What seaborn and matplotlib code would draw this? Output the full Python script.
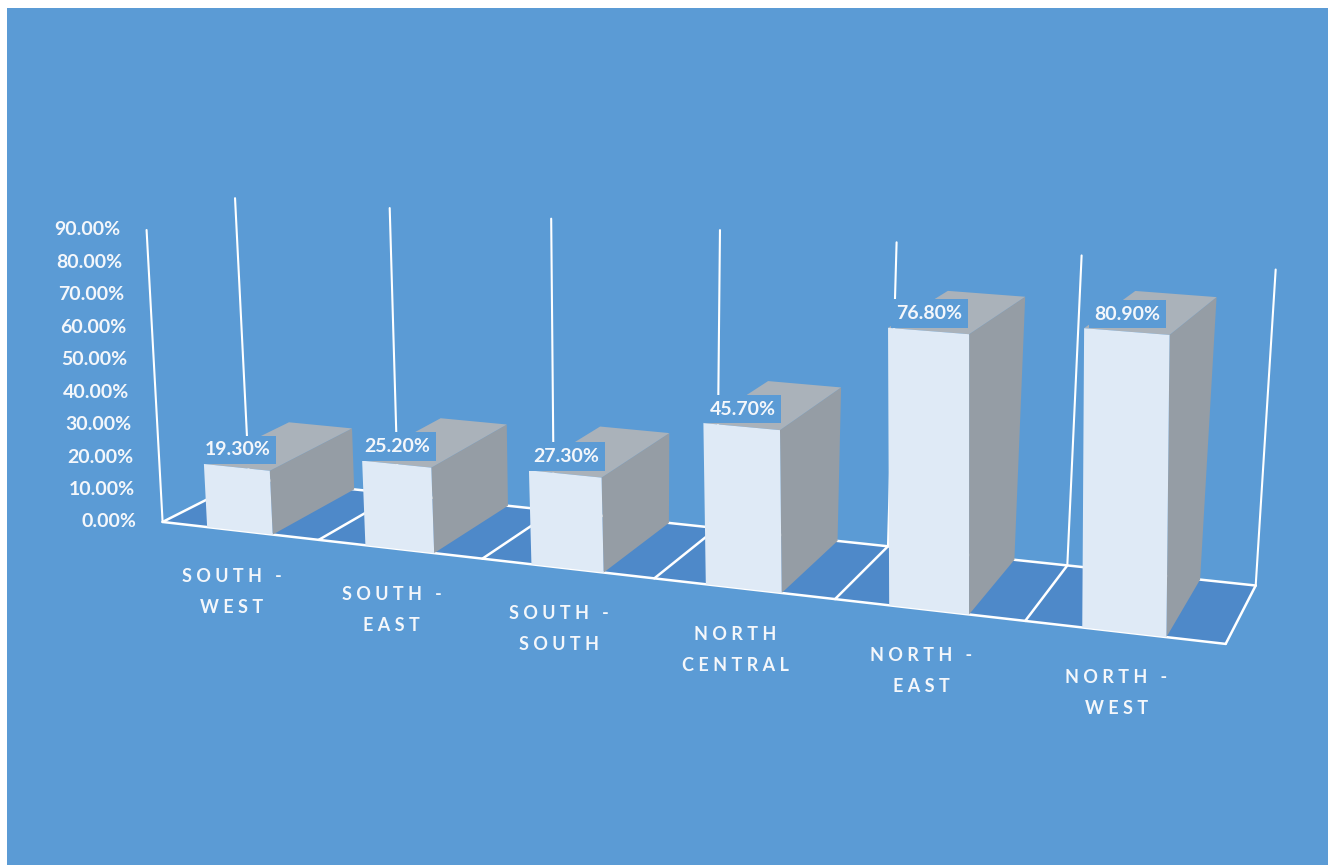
import numpy as np
import pandas as pd
import matplotlib
matplotlib.use("Agg")
import matplotlib.pyplot as plt
import matplotlib.transforms as mtransforms
from matplotlib.patches import Polygon
import seaborn as sns

# datos
regions = ["SOUTH -\nWEST", "SOUTH -\nEAST", "SOUTH -\nSOUTH",
           "NORTH\nCENTRAL", "NORTH -\nEAST", "NORTH -\nWEST"]
shares = [19.3, 25.2, 27.3, 45.7, 76.8, 80.9]
yticks = [0, 10, 20, 30, 40, 50, 60, 70, 80, 90]

BG = "#5b9bd5"
FLOOR = "#4e89c9"
FRONT = "#dfeaf6"
SIDE = "#959da5"
TOP = "#aab2ba"
TXT = "#f4f7fb"

#%% perspectiva (pixeles de la imagen)

# suelo: (slot, profundidad) -> pixel
floor_src = [(0, 0), (1, 0), (2, 0), (3, 0), (4, 0), (5, 0), (6, 0),
             (0, 1), (1, 1), (2, 1), (3, 1), (4, 1), (5, 1), (6, 1)]
floor_dst = [(161, 522), (320, 539), (483, 558), (655, 578), (835, 598), (1025, 622), (1225, 646),
             (251, 480), (398, 494), (550, 510), (716, 528), (889, 546), (1072, 566), (1253, 584)]

A, b = [], []
for (x, z), (u, v) in zip(floor_src, floor_dst):
    A.append([x, z, 1, 0, 0, 0, -u * x, -u * z]); b.append(u)
    A.append([0, 0, 0, x, z, 1, -v * x, -v * z]); b.append(v)
h = np.linalg.lstsq(np.array(A, float), np.array(b, float), rcond=None)[0]
H = np.append(h, 1).reshape(3, 3)

# vector vertical (pixeles por 1%) en las esquinas
V_FL = np.array([-0.178, -3.244])
V_FR = np.array([0.05, -3.76])
V_BL = np.array([-0.156, -3.111])
V_BR = np.array([0.222, -3.511])
NSLOT = len(regions)


def project(X, Y, Z):
    X = np.atleast_1d(np.asarray(X, float))
    Y = np.atleast_1d(np.asarray(Y, float))
    Z = np.atleast_1d(np.asarray(Z, float)) * np.ones_like(X)
    p = H @ np.vstack([X, Z, np.ones_like(X)])
    base = (p[:2] / p[2]).T
    t = (X / NSLOT)[:, None]
    zz = Z[:, None]
    v = (1 - t) * (1 - zz) * V_FL + t * (1 - zz) * V_FR + (1 - t) * zz * V_BL + t * zz * V_BR
    return base + Y[:, None] * v


class FrontPlane(mtransforms.Transform):
    """Lleva las barras de seaborn (x categorica, y en %) al plano frontal."""
    input_dims = 2
    output_dims = 2
    is_separable = False
    has_inverse = False

    def transform_non_affine(self, values):
        values = np.asarray(values, dtype=float).reshape(-1, 2)
        return project(values[:, 0] + 0.5, values[:, 1], 0)


#%% figura

sns.set_style("white")
plt.rcParams["font.family"] = ["Lato", "DejaVu Sans"]

fig = plt.figure(figsize=(13.28, 8.65), dpi=100, facecolor="white")
rect = [7 / 1328, 0, 1321 / 1328, 857 / 865]

ax_bg = fig.add_axes(rect, zorder=0)
ax_bg.set_xlim(7, 1328)
ax_bg.set_ylim(865, 8)
ax_bg.set_facecolor(BG)
for s in ax_bg.spines.values():
    s.set_visible(False)
ax_bg.set_xticks([])
ax_bg.set_yticks([])

ax = fig.add_axes(rect, zorder=1)
ax_top = fig.add_axes(rect, zorder=2)
ax_top.set_xlim(7, 1328)
ax_top.set_ylim(865, 8)
ax_top.axis("off")

# suelo
floor = project([0, NSLOT, NSLOT, 0], [0, 0, 0, 0], [0, 0, 1, 1])
ax_bg.add_patch(Polygon(floor, closed=True, fc=FLOOR, ec="none", zorder=1))
lw = 1.8
edges = [((0, 0), (NSLOT, 0)), ((0, 1), (NSLOT, 1))]
edges += [((k, 0), (k, 1)) for k in range(NSLOT + 1)]
for (x0, z0), (x1, z1) in edges:
    pts = project([x0, x1], [0, 0], [z0, z1])
    ax_bg.plot(pts[:, 0], pts[:, 1], color="white", lw=lw, zorder=2,
               solid_capstyle="round")

# lineas verticales del fondo y eje
for k in range(NSLOT + 1):
    pts = project([k, k], [0, yticks[-1]], [1, 1])
    ax_bg.plot(pts[:, 0], pts[:, 1], color="white", lw=1.5, zorder=2)
pts = project([0, 0], [0, yticks[-1]], [0, 0])
ax_bg.plot(pts[:, 0], pts[:, 1], color="white", lw=1.5, zorder=2)

# etiquetas eje y
for t in yticks:
    px, py = project(0, t, 0)[0]
    ax_bg.text(px - 26, py, f"{t:.2f}%", ha="right", va="center",
               color=TXT, fontsize=14, fontweight="bold")

# barras (cara frontal con seaborn)
df = pd.DataFrame({"region": regions, "share": shares})
sns.barplot(data=df, x="region", y="share", width=0.42, color=FRONT,
            saturation=1, errorbar=None, linewidth=0, ax=ax)
ax.axis("off")

front_tr = FrontPlane() + ax_bg.transData
for p in ax.patches:
    p.set_transform(front_tr)
    x0 = p.get_x() + 0.5
    x1 = x0 + p.get_width()
    hgt = p.get_height()

    side = project([x1, x1, x1, x1], [0, hgt, hgt, 0], [0, 0, 1, 1])
    top = project([x0, x1, x1, x0], [hgt, hgt, hgt, hgt], [0, 0, 1, 1])
    ax_bg.add_patch(Polygon(side, closed=True, fc=SIDE, ec="none", zorder=3))
    ax_bg.add_patch(Polygon(top, closed=True, fc=TOP, ec="none", zorder=3))

    # etiqueta del valor
    cx, cy = project((x0 + x1) / 2, hgt, 0)[0]
    ax_top.text(cx + 1, cy - 9, f"{hgt:.2f}%", ha="center", va="bottom",
                color=TXT, fontsize=14, fontweight="bold",
                bbox=dict(boxstyle="square,pad=0.3", fc=BG, ec="none"))


def spaced(s):
    return "\n".join(" ".join(line) for line in s.split("\n"))


# etiquetas de categorias
for i, name in enumerate(regions):
    px, py = project(i + 0.5, 0, 0)[0]
    ax_bg.text(px - 8, py + 61, spaced(name), ha="center", va="center",
               multialignment="center", linespacing=2.0,
               color=TXT, fontsize=13, fontweight="bold")

fig.savefig("out.png", dpi=100, facecolor="white")
